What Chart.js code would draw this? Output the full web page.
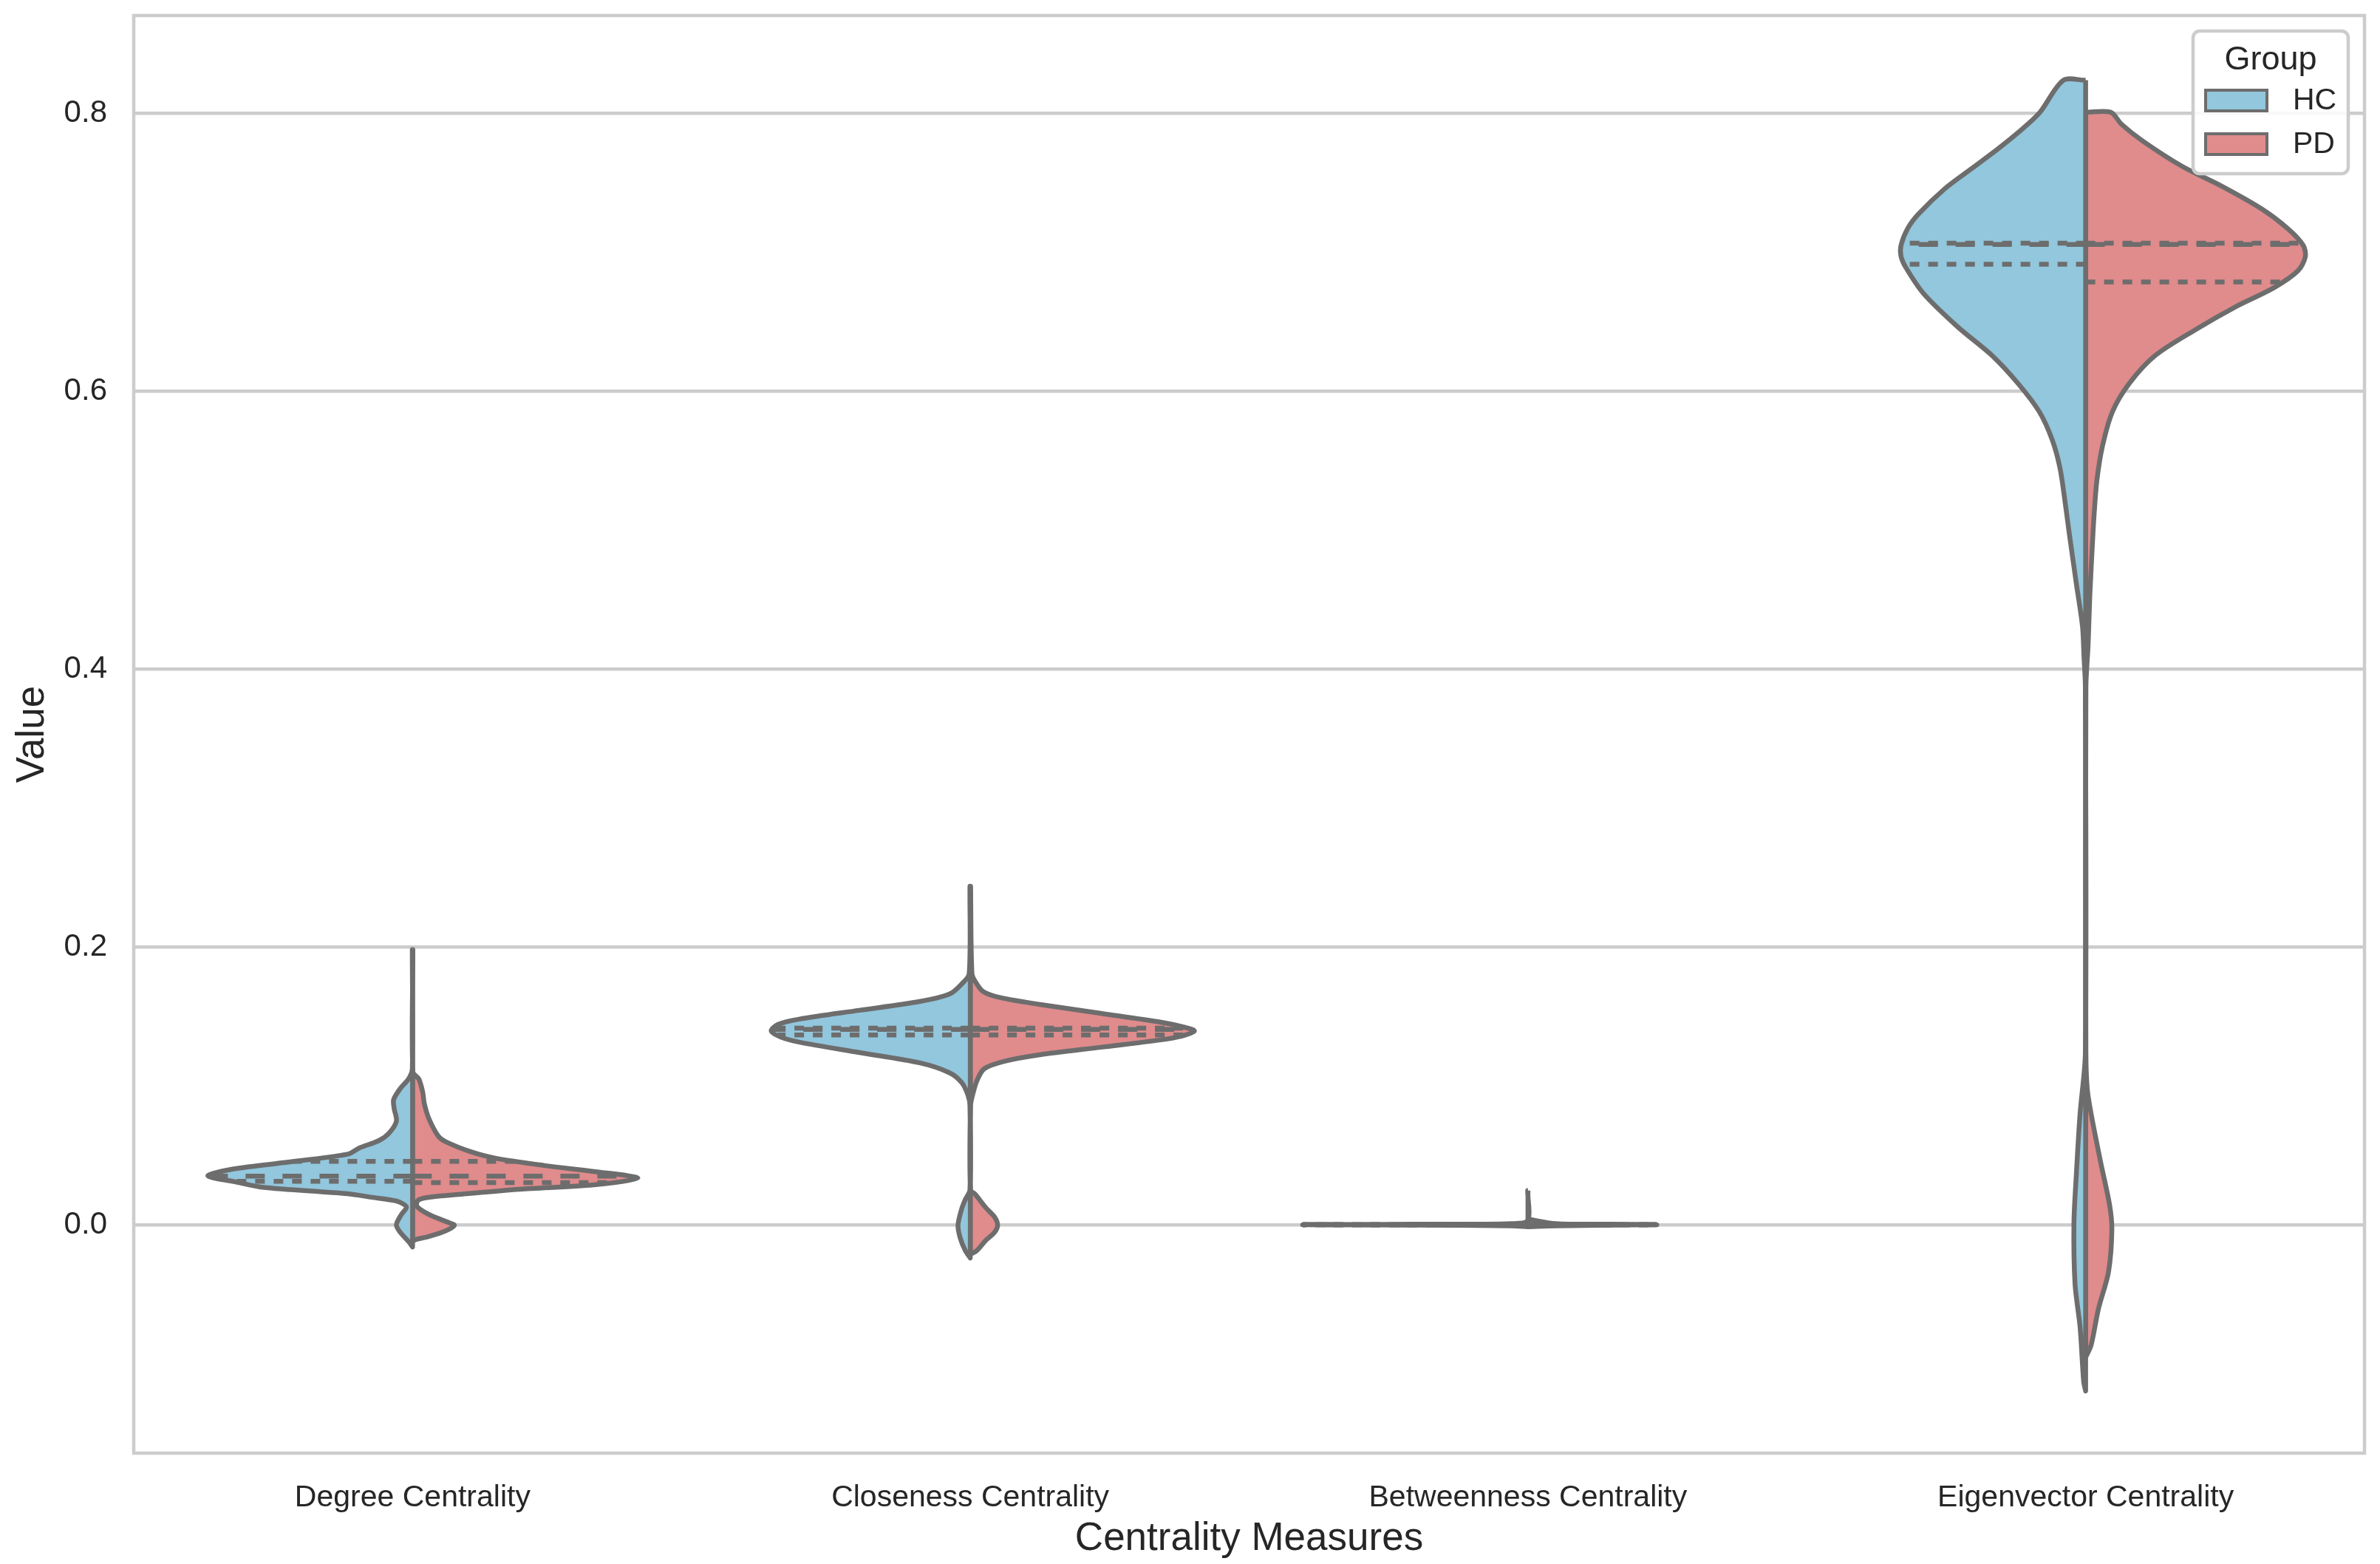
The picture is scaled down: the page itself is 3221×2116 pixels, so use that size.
<!DOCTYPE html>
<html>
<head>
<meta charset="utf-8">
<title>Centrality violins</title>
<script src="https://cdn.jsdelivr.net/npm/chart.js@4.4.1/dist/chart.umd.min.js"></script>
<style>
  html, body { margin: 0; padding: 0; background: #fff; }
  #wrap { width: 3221px; height: 2116px; position: relative; }
</style>
</head>
<body>
<div id="wrap"><canvas id="violin"></canvas></div>
<script>
// categories / groups / ticks
var categories = ['Degree Centrality', 'Closeness Centrality', 'Betweenness Centrality', 'Eigenvector Centrality'];
var groups = ['HC', 'PD'];
var groupColors = ['#92c7dd', '#e08b8c'];
var yTicks = [0.0, 0.2, 0.4, 0.6, 0.8];

// violin halves: [value, half width in category units], top to bottom
var hcDegree = [[0.198,0.0005],[0.112,0.0005],[0.105,0.007],[0.098,0.022],[0.090,0.034],[0.0835,0.033],[0.0745,0.029],[0.066,0.042],[0.0606,0.060],[0.0553,0.095],[0.0507,0.117],[0.0445,0.235],[0.0395,0.33],[0.0351,0.367],[0.031,0.32],[0.027,0.27],[0.0223,0.117],[0.0197,0.073],[0.017,0.029],[0.0128,0.011],[0.0074,0.020],[0.000,0.029],[-0.0053,0.0225],[-0.0122,0.007],[-0.016,0]];
var pdDegree = [[0.198,0.0005],[0.110,0.0005],[0.105,0.011],[0.0957,0.018],[0.0872,0.021],[0.0766,0.029],[0.0638,0.046],[0.0596,0.060],[0.0527,0.103],[0.0479,0.148],[0.0426,0.236],[0.0383,0.325],[0.0335,0.404],[0.0287,0.325],[0.0255,0.192],[0.0218,0.082],[0.0202,0.038],[0.018,0.011],[0.0133,0.0075],[0.0074,0.029],[0.001,0.068],[-0.0005,0.075],[-0.0043,0.060],[-0.0085,0.029],[-0.0106,0.0066],[-0.0117,0]];

var hcCloseness = [[0.2436,0.0005],[0.1806,0.002],[0.1734,0.015],[0.166,0.037],[0.1606,0.091],[0.1543,0.199],[0.1479,0.307],[0.1441,0.345],[0.1394,0.357],[0.1351,0.340],[0.1314,0.307],[0.1239,0.199],[0.1165,0.091],[0.1093,0.037],[0.1021,0.015],[0.0931,0.004],[0.0856,0.0005],[0.0252,0.0005],[0.018,0.009],[0.0106,0.016],[-0.0005,0.022],[-0.0096,0.018],[-0.0186,0.009],[-0.024,0]];
var pdCloseness = [[0.2436,0.0005],[0.1806,0.003],[0.175,0.009],[0.1678,0.023],[0.1633,0.055],[0.1585,0.125],[0.1521,0.234],[0.1457,0.342],[0.142,0.385],[0.1394,0.402],[0.1358,0.380],[0.133,0.342],[0.1277,0.234],[0.1223,0.125],[0.1176,0.061],[0.1122,0.025],[0.1037,0.012],[0.0931,0.004],[0.0856,0.0005],[0.0252,0.0005],[0.0218,0.009],[0.0122,0.028],[0.0053,0.044],[-0.0005,0.049],[-0.0058,0.043],[-0.0112,0.028],[-0.0186,0.012],[-0.0213,0]];

var hcBetweenness = [[0.0246,0.0005],[0.003,0.0005],[0.0008,0.03],[0.0003,0.2],[0,0.404],[-0.0003,0.2],[-0.0008,0.03],[-0.0015,0]];
var pdBetweenness = [[0.004,0.0005],[0.0008,0.05],[0.0003,0.15],[0,0.231],[-0.0003,0.15],[-0.0008,0.05],[-0.0015,0]];

var hcEigenvector = [[0.8236,0.040],[0.800,0.083],[0.786,0.121],[0.774,0.158],[0.7596,0.206],[0.7454,0.253],[0.7272,0.300],[0.717,0.319],[0.7049,0.331],[0.6968,0.331],[0.6886,0.322],[0.6703,0.291],[0.646,0.229],[0.6256,0.168],[0.6053,0.121],[0.585,0.083],[0.5649,0.060],[0.5445,0.046],[0.5205,0.037],[0.4964,0.029],[0.4614,0.0167],[0.4307,0.0057],[0.4088,0.003],[0.3868,0.0005],[0.1237,0.0005],[0.0799,0.010],[0.036,0.0167],[0.001,0.021],[-0.0429,0.019],[-0.0736,0.010],[-0.1131,0.0035],[-0.1197,0]];
var pdEigenvector = [[0.8006,0.045],[0.7921,0.064],[0.78,0.102],[0.7617,0.173],[0.7474,0.244],[0.7312,0.315],[0.717,0.362],[0.7049,0.390],[0.6967,0.394],[0.6866,0.381],[0.6744,0.338],[0.6602,0.267],[0.6439,0.196],[0.6256,0.125],[0.6053,0.078],[0.585,0.048],[0.56,0.030],[0.535,0.020],[0.51,0.015],[0.4964,0.013],[0.4527,0.0075],[0.4176,0.0045],[0.3868,0.0005],[0.1237,0.0005],[0.0974,0.003],[0.0799,0.0098],[0.0448,0.027],[0.0141,0.043],[-0.0035,0.047],[-0.034,0.041],[-0.0605,0.023],[-0.0867,0.0098],[-0.0955,0]];

// quartiles per category: [Q1, median, Q3]
var quartHC = [[0.0312,0.0350,0.0456],[0.1365,0.1405,0.1415],[0,0,0],[0.6912,0.7055,0.7064]];
var quartPD = [[0.0303,0.0349,0.0456],[0.1365,0.1405,0.1415],[0,0,0],[0.6785,0.7055,0.7064]];

var shapesHC = [hcDegree, hcCloseness, hcBetweenness, hcEigenvector];
var shapesPD = [pdDegree, pdCloseness, pdBetweenness, pdEigenvector];

var edgeGray = '#6d6d6d';
var textColor = '#262626';
var gridColor = '#cccccc';

Chart.defaults.font.family = '"Liberation Sans", Arial, sans-serif';
Chart.defaults.color = textColor;

// closed outline of one half, centre line included
function halfShape(ci, side, outline) {
  var pts = [{x: ci, y: outline[0][0]}];
  outline.forEach(function(p) { pts.push({x: ci + side * p[1], y: p[0]}); });
  pts.push({x: ci, y: outline[outline.length - 1][0]});
  pts.push({x: ci, y: outline[0][0]});
  return pts;
}

function widthAt(outline, v) {
  for (var i = 0; i < outline.length - 1; i++) {
    var a = outline[i], b = outline[i + 1];
    if (v <= a[0] && v >= b[0]) {
      var t = a[0] === b[0] ? 0 : (a[0] - v) / (a[0] - b[0]);
      return a[1] + t * (b[1] - a[1]);
    }
  }
  return 0;
}

var datasets = [];
[shapesHC, shapesPD].forEach(function(shapes, g) {
  var side = g === 0 ? -1 : 1;
  var quarts = g === 0 ? quartHC : quartPD;
  shapes.forEach(function(outline, ci) {
    datasets.push({
      label: groups[g],
      data: halfShape(ci, side, outline),
      backgroundColor: groupColors[g],
      borderColor: edgeGray,
      borderWidth: 6.5,
      borderJoinStyle: 'round',
      fill: 'shape',
      tension: 0.3,
      pointRadius: 0,
      order: 2
    });
    quarts[ci].forEach(function(q, k) {
      var w = widthAt(outline, q);
      datasets.push({
        label: groups[g] + ' quartile',
        data: [{x: ci, y: q}, {x: ci + side * w, y: q}],
        borderColor: edgeGray,
        borderWidth: 6.5,
        borderCapStyle: 'butt',
        borderDash: k === 1 ? [26, 24] : [13, 12],
        fill: false,
        tension: 0,
        pointRadius: 0,
        order: 1
      });
    });
  });
});

var frameLegend = {
  id: 'frameLegend',
  beforeDatasetsDraw: function(chart) {
    var a = chart.chartArea, ctx = chart.ctx;
    ctx.save();
    ctx.strokeStyle = gridColor;
    ctx.lineWidth = 4.5;
    ctx.strokeRect(a.left, a.top, a.right - a.left, a.bottom - a.top);
    ctx.restore();
  },
  afterDraw: function(chart) {
    var a = chart.chartArea, ctx = chart.ctx;
    var bx = a.right - 232, by = a.top + 21, bw = 210, bh = 193;
    ctx.save();
    ctx.beginPath();
    ctx.roundRect(bx, by, bw, bh, 9);
    ctx.fillStyle = 'rgba(255,255,255,0.85)';
    ctx.fill();
    ctx.strokeStyle = gridColor;
    ctx.lineWidth = 4.5;
    ctx.stroke();
    ctx.fillStyle = textColor;
    ctx.textAlign = 'center';
    ctx.textBaseline = 'alphabetic';
    ctx.font = '45px "Liberation Sans", Arial, sans-serif';
    ctx.fillText('Group', bx + 105, by + 52);
    ctx.font = '41px "Liberation Sans", Arial, sans-serif';
    groups.forEach(function(name, i) {
      var py = by + 80 + i * 59;
      ctx.fillStyle = groupColors[i];
      ctx.fillRect(bx + 17, py, 83, 28);
      ctx.strokeStyle = edgeGray;
      ctx.lineWidth = 4;
      ctx.strokeRect(bx + 17, py, 83, 28);
      ctx.fillStyle = textColor;
      ctx.textAlign = 'left';
      ctx.textBaseline = 'middle';
      ctx.fillText(name, bx + 135, py + 15);
    });
    ctx.restore();
  }
};

new Chart(document.getElementById('violin'), {
  type: 'line',
  data: { datasets: datasets },
  options: {
    responsive: true,
    maintainAspectRatio: false,
    devicePixelRatio: 1,
    animation: false,
    layout: { padding: { left: 0, top: 21, right: 21, bottom: 0 } },
    plugins: { legend: { display: false }, tooltip: { enabled: false } },
    scales: {
      x: {
        type: 'linear',
        min: -0.5,
        max: 3.5,
        afterFit: function(s) { s.height = 150; s.paddingLeft = 0; s.paddingRight = 0; },
        afterBuildTicks: function(s) { s.ticks = categories.map(function(c, i) { return {value: i}; }); },
        grid: { display: false },
        border: { display: false },
        ticks: {
          padding: 28,
          font: { size: 41 },
          color: textColor,
          callback: function(v) { return categories[v]; }
        },
        title: {
          display: true,
          text: 'Centrality Measures',
          font: { size: 53 },
          color: textColor,
          padding: { top: 0, bottom: 2 }
        }
      },
      y: {
        min: -0.1644,
        max: 0.8702,
        afterFit: function(s) { s.width = 181; s.paddingTop = 0; s.paddingBottom = 0; },
        afterBuildTicks: function(s) { s.ticks = yTicks.map(function(v) { return {value: v}; }); },
        grid: { color: gridColor, lineWidth: 4.5, drawTicks: false },
        border: { display: false },
        ticks: {
          padding: 36,
          font: { size: 42 },
          color: textColor,
          callback: function(v) { return v.toFixed(1); }
        },
        title: {
          display: true,
          text: 'Value',
          font: { size: 53 },
          color: textColor,
          padding: { top: 13, bottom: 0 }
        }
      }
    }
  },
  plugins: [frameLegend]
});
</script>
</body>
</html>
